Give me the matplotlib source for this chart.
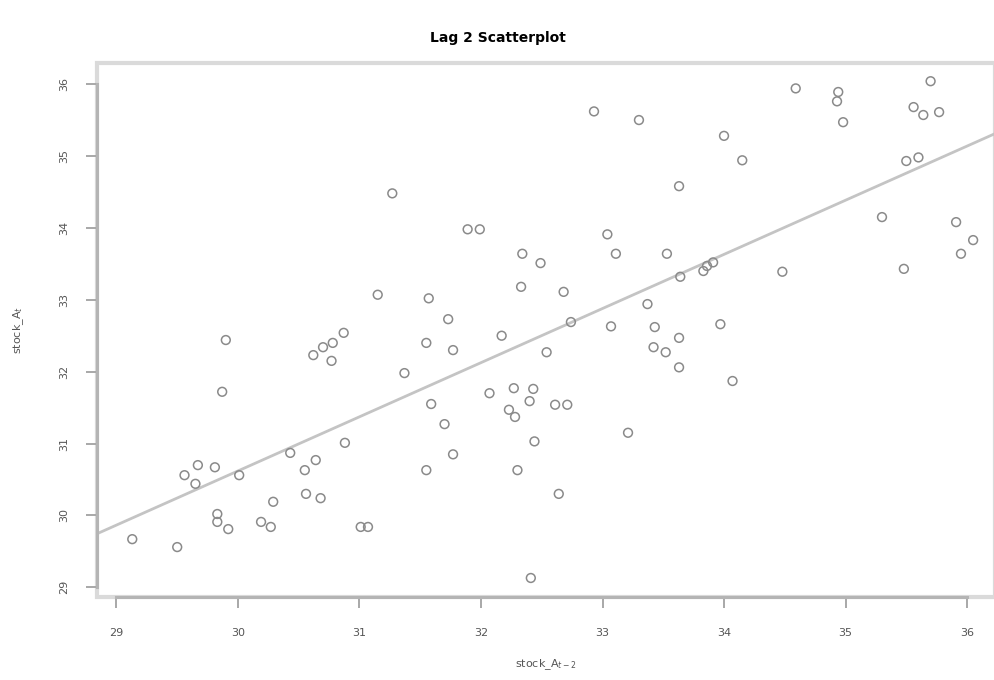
import numpy as np
import matplotlib.pyplot as plt
from matplotlib.patches import Rectangle

# lagged pairs: stock_A at t-2 (x) against stock_A at t (y)
lag_x = [29.13, 29.50, 29.56, 29.65, 29.67, 29.81, 29.83, 29.83, 29.92, 29.87,
         29.90, 30.01, 30.19, 30.27, 30.29, 30.43, 30.56, 30.68, 30.55, 30.64,
         30.62, 30.70, 30.78, 30.77, 30.87, 30.88, 31.01, 31.07, 31.15, 31.27,
         31.37, 31.55, 31.57, 31.55, 31.59, 31.70, 31.73, 31.77, 31.77, 31.89,
         31.99, 32.07, 32.17, 32.23, 32.28, 32.27, 32.30, 32.33, 32.34, 32.40,
         32.43, 32.44, 32.49, 32.54, 32.61, 32.71, 32.64, 32.68, 32.74, 32.41,
         32.93, 33.04, 33.07, 33.11, 33.21, 33.30, 33.37, 33.43, 33.42, 33.52,
         33.53, 33.63, 33.63, 33.63, 33.64, 33.83, 33.86, 33.91, 33.97, 34.00,
         34.07, 34.15, 34.48, 34.59, 34.94, 34.93, 34.98, 35.30, 35.48, 35.50,
         35.60, 35.56, 35.64, 35.77, 35.70, 35.91, 35.95, 36.05]
lag_y = [29.67, 29.56, 30.56, 30.44, 30.70, 30.67, 30.02, 29.91, 29.81, 31.72,
         32.44, 30.56, 29.91, 29.84, 30.19, 30.87, 30.30, 30.24, 30.63, 30.77,
         32.23, 32.34, 32.40, 32.15, 32.54, 31.01, 29.84, 29.84, 33.07, 34.48,
         31.98, 32.40, 33.02, 30.63, 31.55, 31.27, 32.73, 32.30, 30.85, 33.98,
         33.98, 31.70, 32.50, 31.47, 31.37, 31.77, 30.63, 33.18, 33.64, 31.59,
         31.76, 31.03, 33.51, 32.27, 31.54, 31.54, 30.30, 33.11, 32.69, 29.13,
         35.62, 33.91, 32.63, 33.64, 31.15, 35.50, 32.94, 32.62, 32.34, 32.27,
         33.64, 32.47, 32.06, 34.58, 33.32, 33.40, 33.47, 33.52, 32.66, 35.28,
         31.87, 34.94, 33.39, 35.94, 35.89, 35.76, 35.47, 34.15, 33.43, 34.93,
         34.98, 35.68, 35.57, 35.61, 36.04, 34.08, 33.64, 33.83]
ticks = [29, 30, 31, 32, 33, 34, 35, 36]

fig = plt.figure(figsize=(9.95, 6.8), dpi=100)
ax = fig.add_axes([0.0975, 0.122, 0.9025, 0.785])

ax.scatter(lag_x, lag_y, s=40, facecolors='none', edgecolors='#8a8a8a', linewidths=1.1, zorder=3)

# least squares fit drawn across the whole panel
slope, intercept = np.polyfit(lag_x, lag_y, 1)
ax.axline((29, intercept + slope * 29), slope=slope, color='#c4c4c4', lw=2, zorder=2)

ax.set_xlim(28.84, 36.23)
ax.set_ylim(28.865, 36.29)
ax.set_xticks(ticks)
ax.set_yticks(ticks)
ax.set_xticklabels([str(t) for t in ticks], fontsize=8, color='#555555')
ax.set_yticklabels([str(t) for t in ticks], fontsize=8, color='#555555', rotation=90, va='center')
ax.tick_params(axis='x', direction='out', length=8, width=1.4, color='#a8a8a8', pad=14)
ax.tick_params(axis='y', direction='out', length=8, width=1.4, color='#a8a8a8', pad=12)

for side in ['top', 'right']:
    ax.spines[side].set_visible(False)
for side in ['bottom', 'left']:
    ax.spines[side].set_bounds(29, 36)
    ax.spines[side].set_color('#b4b4b4')
    ax.spines[side].set_linewidth(2.2)
ax.add_patch(Rectangle((0, 0), 1, 1, transform=ax.transAxes, fill=False,
                       edgecolor='#dadada', lw=3, clip_on=False, zorder=0))

ax.set_xlabel(r'stock_A$_{t-2}$', fontsize=8, color='#555555', labelpad=14)
ax.set_ylabel(r'stock_A$_{t}$', fontsize=8, color='#555555', labelpad=24)
fig.suptitle('Lag 2 Scatterplot', fontsize=10, fontweight='bold', y=0.955)

fig.savefig('out.png', dpi=100)
